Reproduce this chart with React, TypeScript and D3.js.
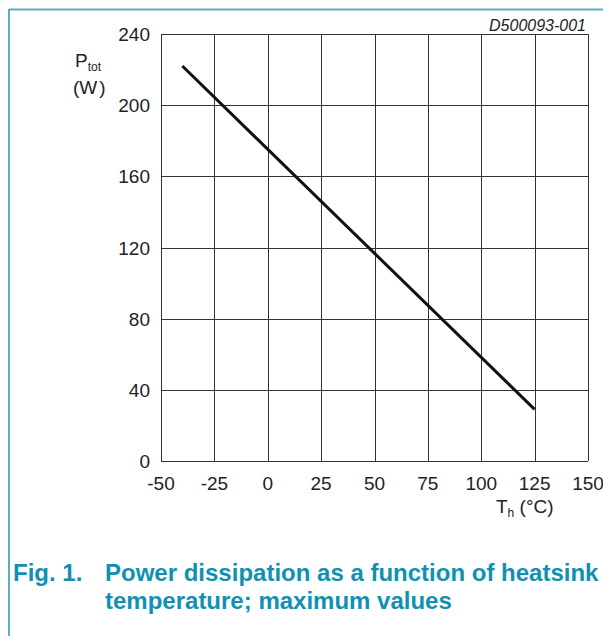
import React from "react";
import * as d3 from "d3";

const xTicks = [-50, -25, 0, 25, 50, 75, 100, 125, 150];
const yTicks = [0, 40, 80, 120, 160, 200, 240];
const tempC = [-40, 125];
const powerW = [222, 29];

const W = 603, H = 636;
const left = 161, right = 588, top = 34, bottom = 461;

export default function App() {
  const x = d3.scaleLinear().domain([-50, 150]).range([left, right]);
  const y = d3.scaleLinear().domain([0, 240]).range([bottom, top]);
  const pts = tempC.map((t, i) => [t, powerW[i]] as [number, number]);
  const line = d3.line<[number, number]>().x(d => x(d[0])).y(d => y(d[1]));
  const font = "Liberation Sans, Arial, sans-serif";
  const teal = "#5aaebd";
  const cap = "#1190b2";
  return (
    <svg width={W} height={H} style={{ position: "absolute", left: 0, top: 0, background: "#fff" }}>
      <line x1={9} y1={9.5} x2={W} y2={9.5} stroke={teal} strokeWidth={2} />
      <line x1={9} y1={9} x2={9} y2={H} stroke={teal} strokeWidth={2} />
      {xTicks.map(t => (
        <line key={"gx" + t} x1={Math.round(x(t)) + 0.5} x2={Math.round(x(t)) + 0.5} y1={top} y2={bottom} stroke="#333" strokeWidth={1} />
      ))}
      {yTicks.map(t => (
        <line key={"gy" + t} x1={left} x2={right} y1={Math.round(y(t)) + 0.5} y2={Math.round(y(t)) + 0.5} stroke="#333" strokeWidth={1} />
      ))}
      <path d={line(pts) || ""} fill="none" stroke="#111" strokeWidth={3} />
      {yTicks.map(t => (
        <text key={"ty" + t} x={150} y={y(t) + 7} textAnchor="end" fontFamily={font} fontSize={19} fill="#222">{t}</text>
      ))}
      {xTicks.map(t => (
        <text key={"tx" + t} x={x(t)} y={490} textAnchor="middle" fontFamily={font} fontSize={19} fill="#222">{t}</text>
      ))}
      <text x={75} y={67} fontFamily={font} fontSize={19} fill="#222">P<tspan fontSize={12} dy={4}>tot</tspan></text>
      <text x={73} y={94} fontFamily={font} fontSize={19} fill="#222">(W<tspan dx={2}>)</tspan></text>
      <text x={496} y={513} fontFamily={font} fontSize={19} fill="#222">T<tspan fontSize={12} dy={4}>h</tspan><tspan dy={-4}> (°C)</tspan></text>
      <text x={586} y={31} textAnchor="end" fontFamily={font} fontSize={16} fontStyle="italic" fill="#222">D500093-001</text>
      <text x={13} y={581} fontFamily={font} fontSize={24} fontWeight="bold" fill={cap}>Fig. 1.</text>
      <text x={105} y={581} fontFamily={font} fontSize={24} fontWeight="bold" fill={cap}>Power dissipation as a function of heatsink</text>
      <text x={105} y={609} fontFamily={font} fontSize={24} fontWeight="bold" fill={cap}>temperature; maximum values</text>
    </svg>
  );
}
